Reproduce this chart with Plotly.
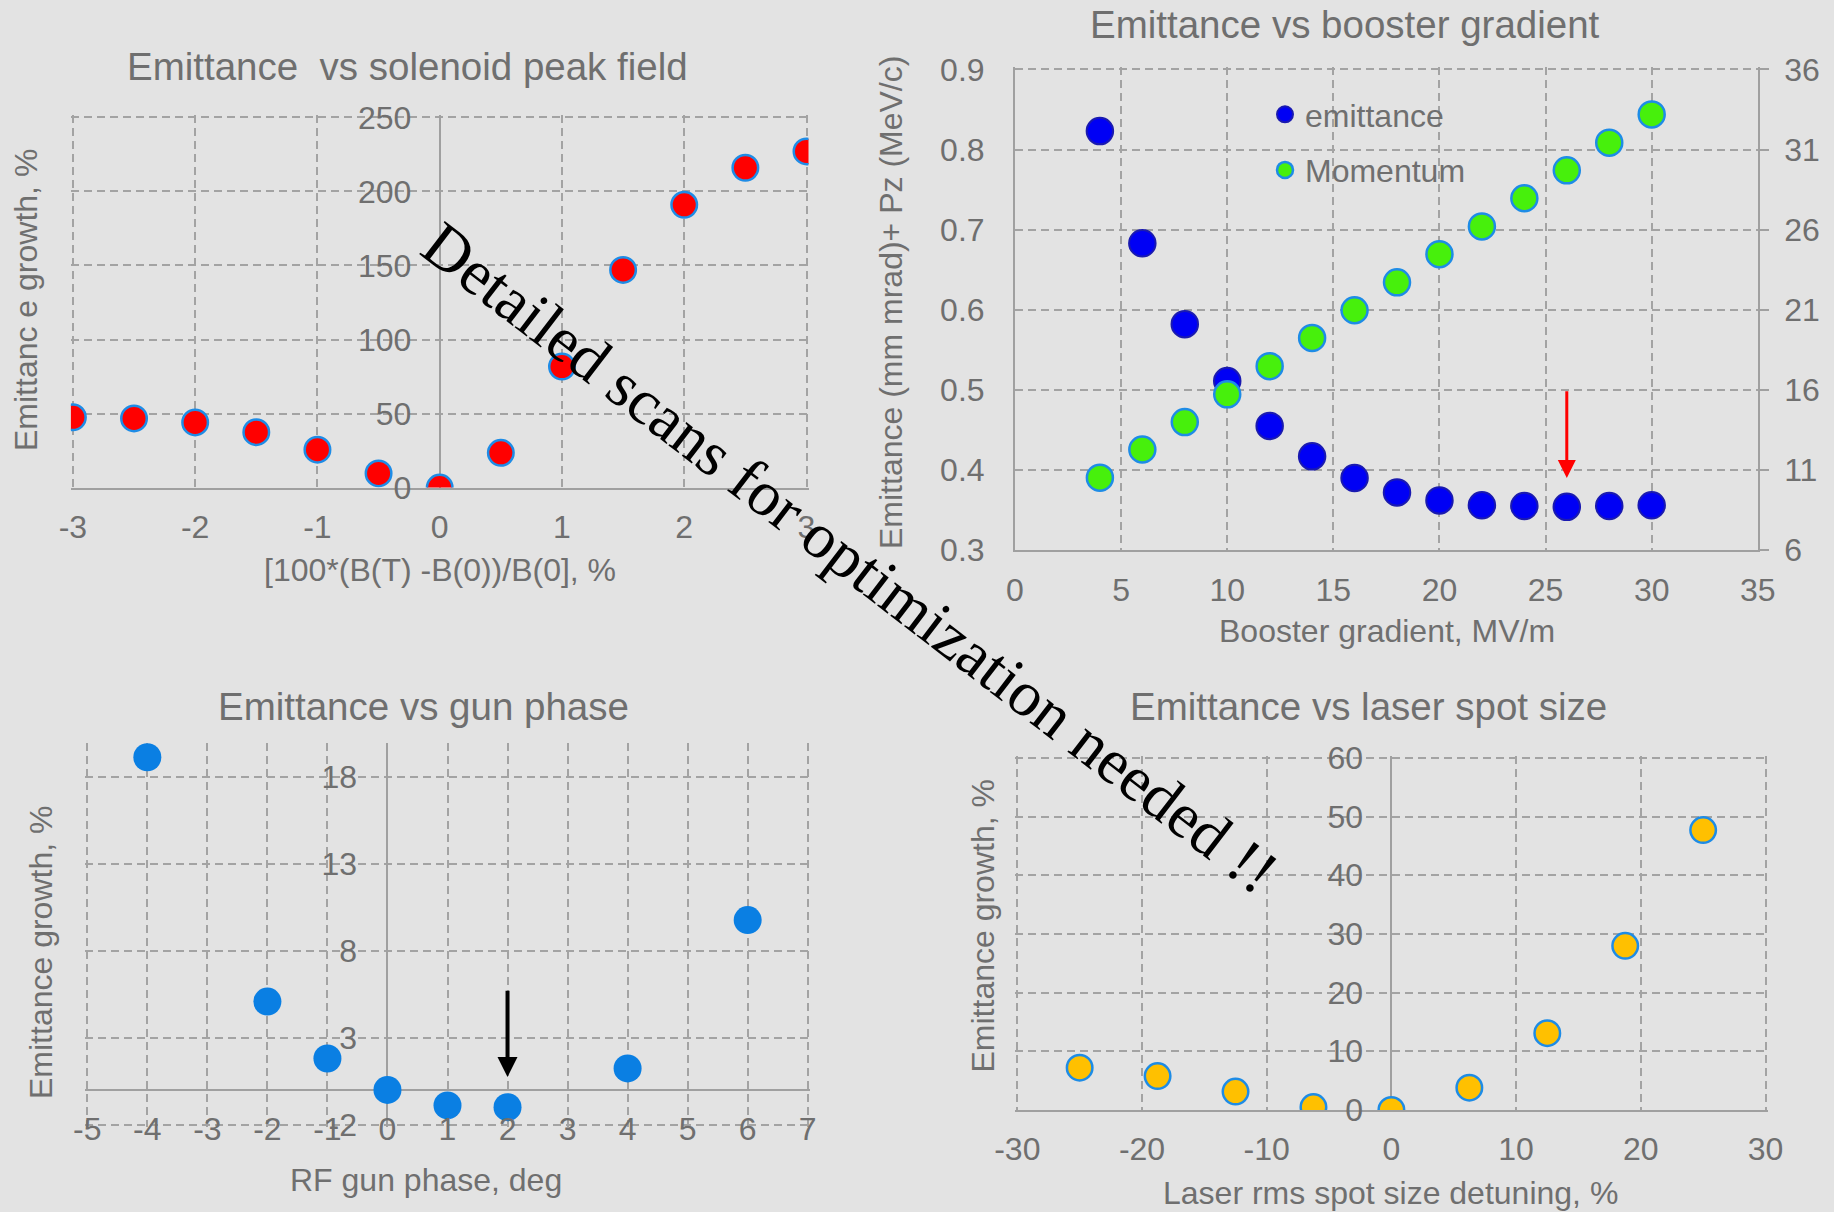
import plotly.graph_objects as go

W, H = 1834, 1212

# ---------------- data ----------------
# Chart 1: emittance vs solenoid peak field
sol_x = [-3, -2.5, -2, -1.5, -1, -0.5, 0, 0.5, 1, 1.5, 2, 2.5, 3]
sol_y = [47.5, 46.7, 44, 37.4, 25.6, 9.6, 0, 23.5, 81.7, 147, 191, 216, 227]
sol_xticks = [-3, -2, -1, 0, 1, 2, 3]
sol_yticks = [0, 50, 100, 150, 200, 250]

# Chart 2: emittance vs booster gradient
boost_x = [4, 6, 8, 10, 12, 14, 16, 18, 20, 22, 24, 26, 28, 30]
boost_emit = [0.823, 0.683, 0.582, 0.511, 0.455, 0.417, 0.390, 0.372,
              0.362, 0.356, 0.355, 0.354, 0.355, 0.356]
boost_mom = [10.52, 12.28, 13.99, 15.72, 17.48, 19.24, 20.97, 22.71,
             24.47, 26.2, 27.96, 29.7, 31.43, 33.19]
boost_xticks = [0, 5, 10, 15, 20, 25, 30, 35]
boost_yticks = [0.3, 0.4, 0.5, 0.6, 0.7, 0.8, 0.9]
mom_ticks = [6, 11, 16, 21, 26, 31, 36]
boost_arrow = {"x": 26, "tail": 0.50, "tip": 0.39}

# Chart 3: emittance vs gun phase
phase_x = [-4, -2, -1, 0, 1, 2, 4, 6]
phase_y = [19.15, 5.09, 1.81, 0, -0.89, -0.99, 1.24, 9.78]
phase_xticks = [-5, -4, -3, -2, -1, 0, 1, 2, 3, 4, 5, 6, 7]
phase_yticks = [-2, 3, 8, 13, 18]
phase_arrow = {"x": 2, "tail": 5.8, "tip": 0.75}

# Chart 4: emittance vs laser spot size
spot_x = [-25, -18.75, -12.5, -6.25, 0, 6.25, 12.5, 18.75, 25]
spot_y = [7.2, 5.76, 3.12, 0.48, 0, 3.78, 13.08, 27.96, 47.7]
spot_xticks = [-30, -20, -10, 0, 10, 20, 30]
spot_yticks = [0, 10, 20, 30, 40, 50, 60]

# ---------------- styling ----------------
BG = "#E3E3E3"
TXT = "#6F6F6F"
GRID = "#A3A3A3"
AXL = "#A0A0A0"
FONT = "Arial, Liberation Sans, sans-serif"
TICKF = dict(family=FONT, size=32, color=TXT)
OUTLINE = "#1E8CE6"
PAD = 2.0  # px of extra room so edge grid lines are drawn


def labels(vals):
    return [("%g" % v) for v in vals]


def px_x(p):
    return p / W


def px_y(p):
    return 1 - p / H


def frame(box, xr, yr, pads):
    """box=(l,r,t,b) px; pads = set of sides to extend by PAD px."""
    l, r, t, b = box
    ux = (xr[1] - xr[0]) / (r - l)
    uy = (yr[1] - yr[0]) / (b - t)
    xr = list(xr)
    yr = list(yr)
    if "l" in pads:
        l -= PAD
        xr[0] -= PAD * ux
    if "r" in pads:
        r += PAD
        xr[1] += PAD * ux
    if "t" in pads:
        t -= PAD
        yr[1] += PAD * uy
    if "b" in pads:
        b += PAD
        yr[0] -= PAD * uy
    return (l, r, t, b), xr, yr


def xdom(b):
    return [px_x(b[0]), px_x(b[1])]


def ydom(b):
    return [px_y(b[3]), px_y(b[2])]


def zero_pos(b, rng):
    d = xdom(b)
    return d[0] + (0 - rng[0]) / (rng[1] - rng[0]) * (d[1] - d[0])


box1, rng1x, rng1y = frame((72.9, 806.5, 117.4, 487.6), [-3, 3], [0, 250], "lrt")
box2, rng2x, rng2y = frame((1015.0, 1757.8, 69.4, 550.1), [0, 35], [0.3, 0.9], "t")
_, _, rng2y2 = frame((1015.0, 1757.8, 69.4, 550.1), [0, 35], [6, 36], "t")
box3, rng3x, rng3y = frame((87.3, 807.7, 742.5, 1124.7), [-5, 7], [-2, 20], "lrb")
box4, rng4x, rng4y = frame((1017.3, 1765.5, 757.9, 1109.9), [-30, 30], [0, 60], "lrt")

fig = go.Figure()

fig.add_trace(go.Scatter(
    x=sol_x, y=sol_y, xaxis="x", yaxis="y", mode="markers", showlegend=False,
    marker=dict(size=25.5, color="#FF0000", line=dict(color=OUTLINE, width=2.5))))

fig.add_trace(go.Scatter(
    x=boost_x, y=boost_emit, xaxis="x2", yaxis="y2", mode="markers",
    name="emittance", legendgroup="a",
    marker=dict(size=26.5, color="#0000F5", line=dict(color="#1A1AB0", width=2))))
fig.add_trace(go.Scatter(
    x=boost_x, y=boost_mom, xaxis="x2", yaxis="y5", mode="markers",
    name="Momentum", legendgroup="b",
    marker=dict(size=26, color="#47F00C", line=dict(color=OUTLINE, width=2.5))))

fig.add_trace(go.Scatter(
    x=phase_x, y=phase_y, xaxis="x3", yaxis="y3", mode="markers", showlegend=False,
    marker=dict(size=28, color="#0A7FE3", line=dict(color="#0A7FE3", width=0))))

fig.add_trace(go.Scatter(
    x=spot_x, y=spot_y, xaxis="x4", yaxis="y4", mode="markers", showlegend=False,
    marker=dict(size=25.5, color="#FFC000", line=dict(color=OUTLINE, width=2.5))))

DASH = "8px,5px"
grid = dict(showgrid=True, gridcolor=GRID, griddash=DASH, gridwidth=1.5, tickfont=TICKF)
hidden_ticks = dict(ticks="outside", tickcolor="rgba(0,0,0,0)")
XTL = 10
YTL = 22

# ----- chart 1 axes -----
fig.update_layout(
    xaxis=dict(domain=xdom(box1), range=rng1x, anchor="y",
               tickvals=sol_xticks, ticktext=labels(sol_xticks),
               showline=True, linecolor=AXL, linewidth=2,
               zeroline=True, zerolinecolor=AXL, zerolinewidth=1.5,
               ticklen=XTL, **hidden_ticks, **grid),
    yaxis=dict(domain=ydom(box1), range=rng1y, anchor="free",
               position=zero_pos(box1, rng1x),
               tickvals=sol_yticks, ticktext=labels(sol_yticks),
               zeroline=False, ticklen=YTL, **hidden_ticks, **grid),
)

# ----- chart 2 axes -----
fig.update_layout(
    xaxis2=dict(domain=xdom(box2), range=rng2x, anchor="y2",
                tickvals=boost_xticks, ticktext=labels(boost_xticks),
                showline=True, linecolor=AXL, linewidth=2, zeroline=False,
                ticklen=XTL, **hidden_ticks, **grid),
    yaxis2=dict(domain=ydom(box2), range=rng2y, anchor="x2",
                tickvals=boost_yticks, ticktext=["%.1f" % v for v in boost_yticks],
                showline=True, linecolor=AXL, linewidth=2, zeroline=False,
                ticklen=YTL, **hidden_ticks, **grid),
    yaxis5=dict(domain=ydom(box2), range=rng2y2, anchor="x2", overlaying="y2",
                side="right", tickvals=mom_ticks, ticktext=labels(mom_ticks),
                showgrid=False, zeroline=False,
                showline=True, linecolor=AXL, linewidth=2,
                ticks="outside", ticklen=9, tickcolor=AXL, tickwidth=2,
                ticklabelstandoff=9, tickfont=TICKF),
)

# ----- chart 3 axes -----
fig.update_layout(
    xaxis3=dict(domain=xdom(box3), range=rng3x, anchor="y3",
                tickvals=phase_xticks, ticktext=labels(phase_xticks),
                zeroline=True, zerolinecolor=AXL, zerolinewidth=1.5,
                ticklen=XTL, ticklabelstandoff=-36, **hidden_ticks, **grid),
    yaxis3=dict(domain=ydom(box3), range=rng3y, anchor="free",
                position=zero_pos(box3, rng3x),
                tickvals=phase_yticks, ticktext=labels(phase_yticks),
                zeroline=True, zerolinecolor=AXL, zerolinewidth=2,
                ticklen=YTL + 2, **hidden_ticks, **grid),
)

# ----- chart 4 axes -----
fig.update_layout(
    xaxis4=dict(domain=xdom(box4), range=rng4x, anchor="y4",
                tickvals=spot_xticks, ticktext=labels(spot_xticks),
                showline=True, linecolor=AXL, linewidth=2,
                zeroline=True, zerolinecolor=AXL, zerolinewidth=1.5,
                ticklen=XTL, **hidden_ticks, **grid),
    yaxis4=dict(domain=ydom(box4), range=rng4y, anchor="free",
                position=zero_pos(box4, rng4x),
                tickvals=spot_yticks, ticktext=labels(spot_yticks),
                zeroline=False, ticklen=YTL, **hidden_ticks, **grid),
)

TF = dict(family=FONT, size=38.5, color=TXT)
AF = dict(family=FONT, size=32, color=TXT)

texts = [
    # (text, x_px, y_px, font, angle)
    ("Emittance\u00a0 vs solenoid peak field", 407.6, 66.7, TF, 0),
    ("Emittance vs booster gradient", 1344.6, 25.0, TF, 0),
    ("Emittance vs gun phase", 423.5, 706.5, TF, 0),
    ("Emittance vs laser spot size", 1368.0, 706.5, TF, 0),
    ("[100*(B(T) -B(0))/B(0], %", 440.0, 570.0, AF, 0),
    ("Booster gradient, MV/m", 1387.0, 631.0, AF, 0),
    ("RF gun phase, deg", 426.0, 1180.0, AF, 0),
    ("Laser rms spot size detuning, %", 1390.7, 1193.0, AF, 0),
    ("Emittanc e growth, %", 26.0, 300.0, AF, -90),
    ("Emittance (mm mrad)+ Pz (MeV/c)", 891.0, 303.0, AF, -90),
    ("Emittance growth, %", 41.0, 953.0, AF, -90),
    ("Emittance growth, %", 982.5, 926.0, AF, -90),
]
annots = []
for t, xp, yp, f, ang in texts:
    annots.append(dict(text=t, x=px_x(xp), y=px_y(yp), xref="paper", yref="paper",
                       xanchor="center", yanchor="middle", showarrow=False,
                       font=f, textangle=ang))

# arrows
annots.append(dict(x=boost_arrow["x"], y=boost_arrow["tip"], ax=boost_arrow["x"],
                   ay=boost_arrow["tail"], xref="x2", yref="y2", axref="x2", ayref="y2",
                   showarrow=True, arrowhead=2, arrowsize=1.2, arrowwidth=3,
                   arrowcolor="#FF0000", text=""))
annots.append(dict(x=phase_arrow["x"], y=phase_arrow["tip"], ax=phase_arrow["x"],
                   ay=phase_arrow["tail"], xref="x3", yref="y3", axref="x3", ayref="y3",
                   showarrow=True, arrowhead=2, arrowsize=1.0, arrowwidth=4,
                   arrowcolor="#000000", text=""))

# diagonal note
annots.append(dict(text="Detailed scans for optimization needed !!",
                   x=px_x(850), y=px_y(557), xref="paper", yref="paper",
                   xanchor="center", yanchor="middle", showarrow=False,
                   textangle=37.5,
                   font=dict(family="Liberation Serif, Times New Roman, serif",
                             size=64, color="#000000")))

fig.update_layout(
    width=W, height=H,
    margin=dict(l=0, r=0, t=0, b=0, pad=0, autoexpand=False),
    paper_bgcolor=BG, plot_bgcolor="rgba(0,0,0,0)",
    annotations=annots,
    showlegend=True,
    legend=dict(x=px_x(1265), y=px_y(87), xanchor="left", yanchor="top",
                bgcolor="rgba(0,0,0,0)", font=dict(family=FONT, size=32, color=TXT),
                tracegroupgap=11, traceorder="grouped", itemwidth=30),
)

fig.write_html("out.html")
